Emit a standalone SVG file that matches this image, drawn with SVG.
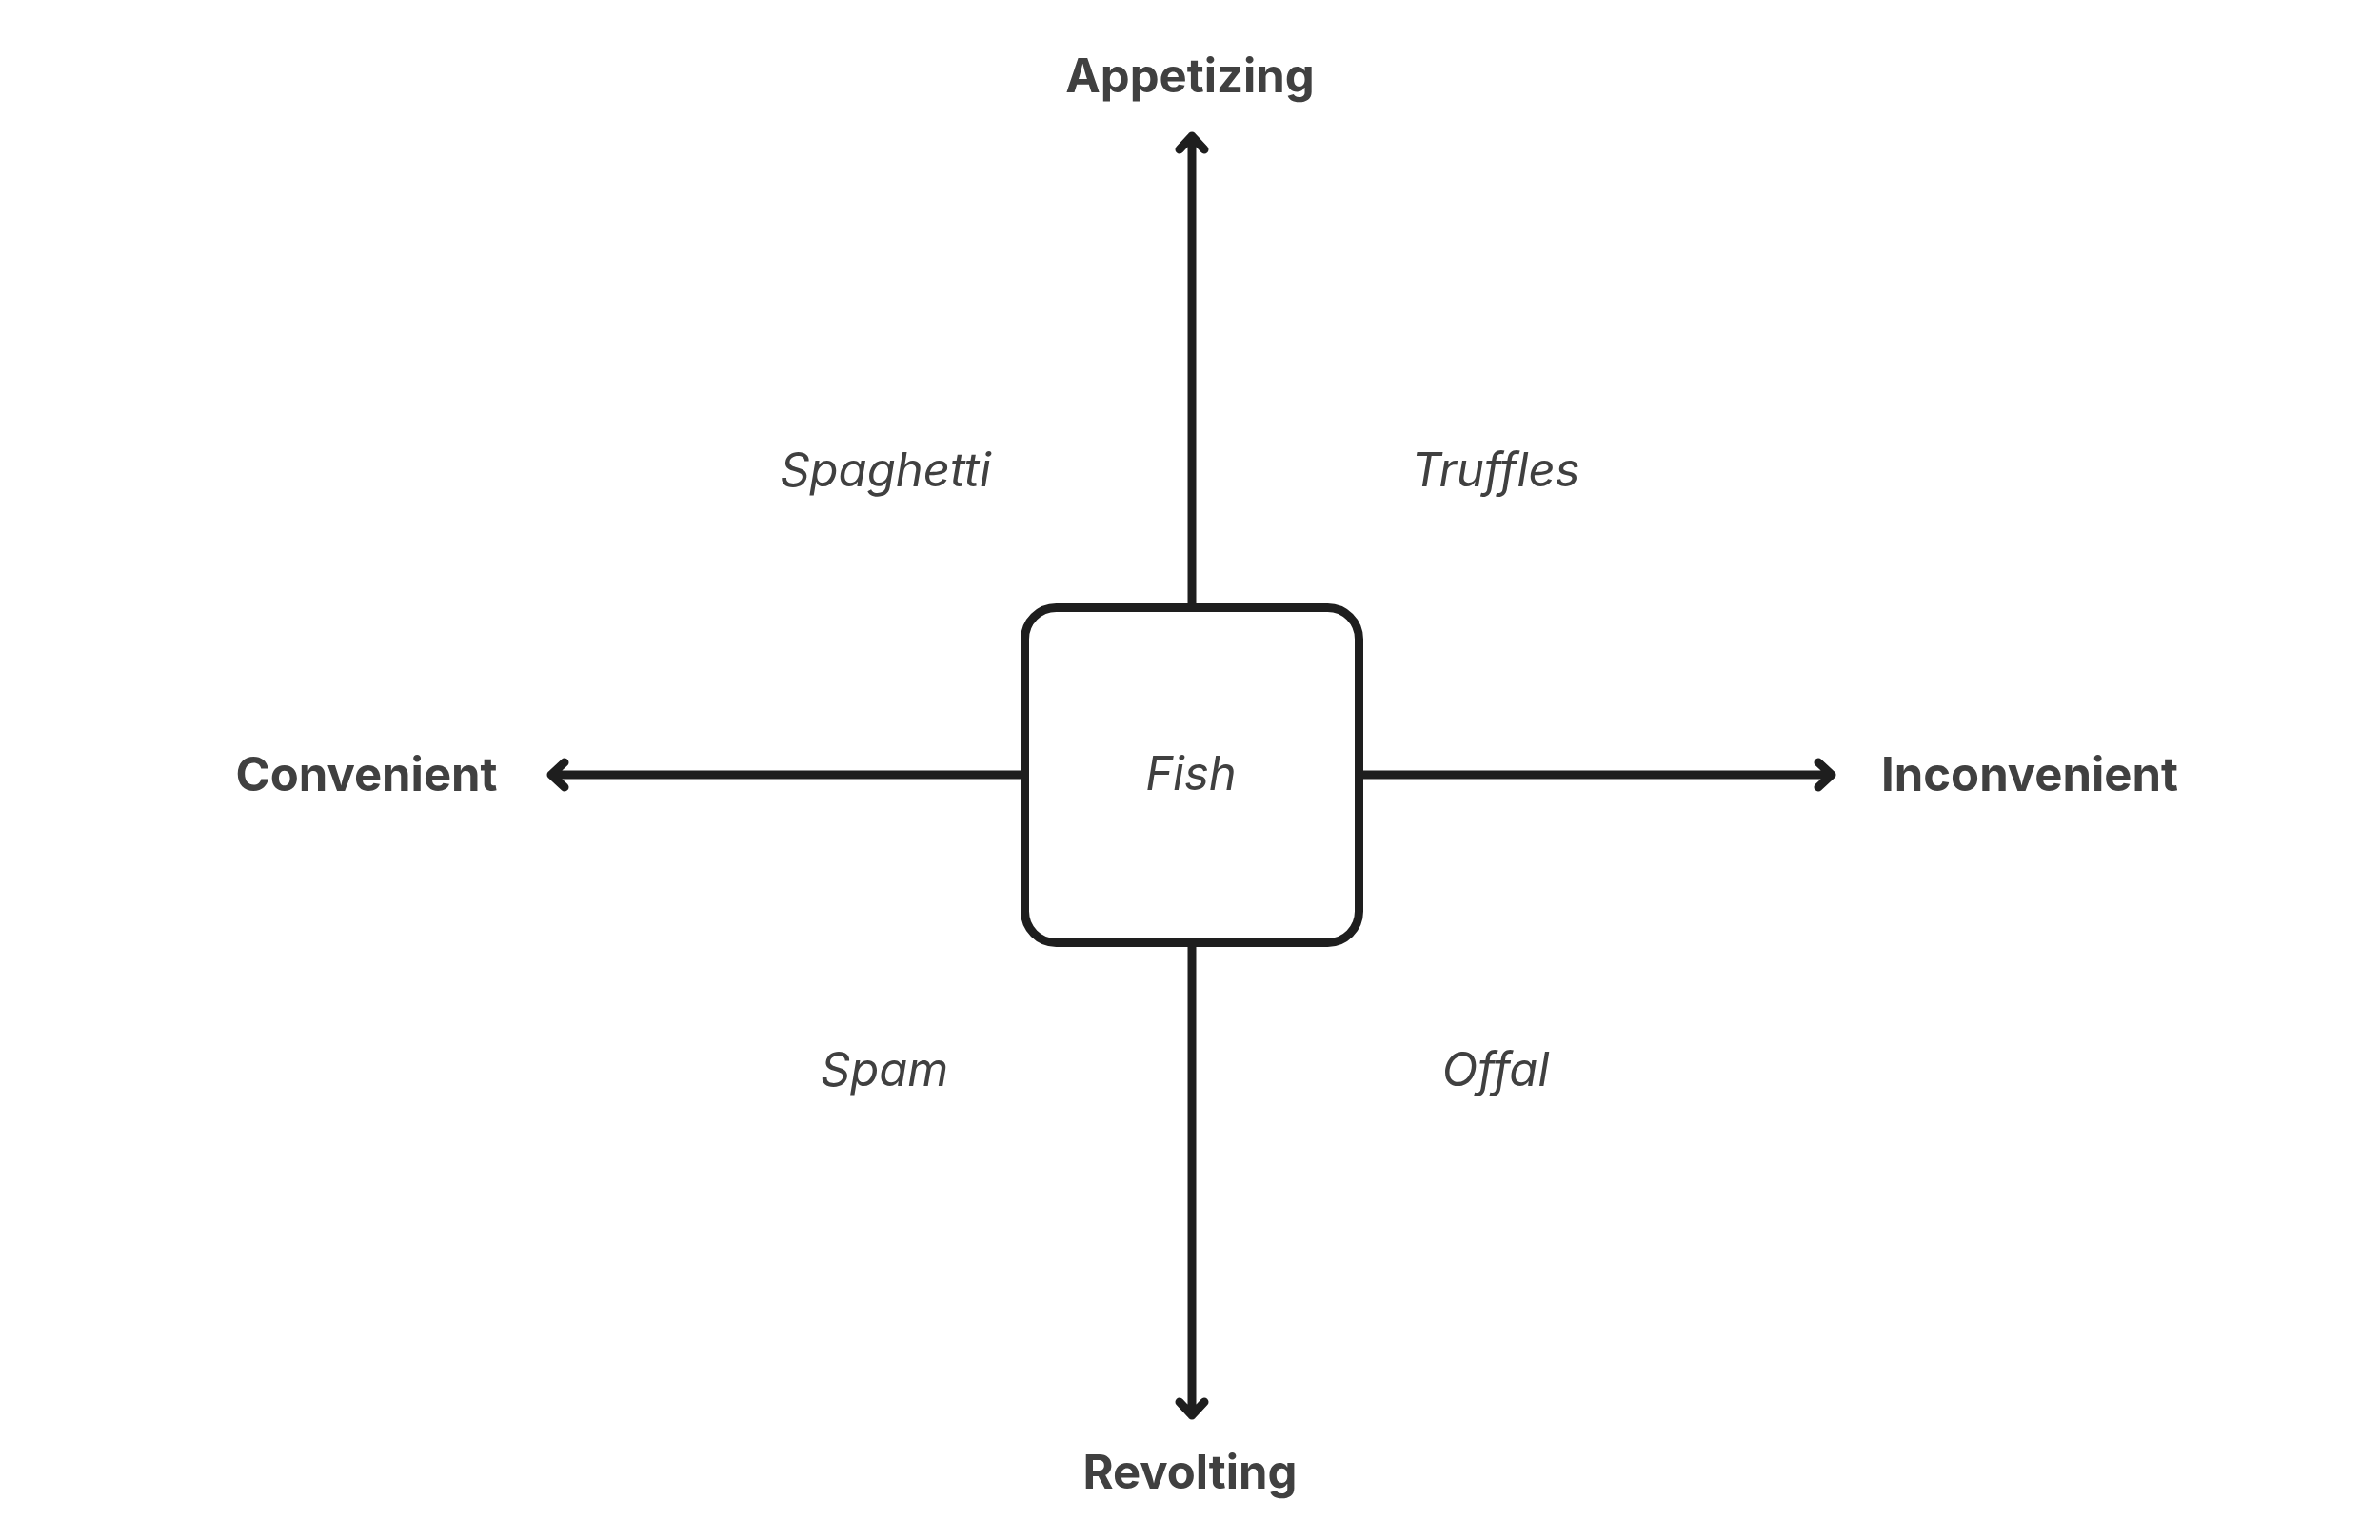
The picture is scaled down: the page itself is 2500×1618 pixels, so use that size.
<svg xmlns="http://www.w3.org/2000/svg" width="2500" height="1618" viewBox="0 0 2500 1618">
<style>
.axis{font-family:Inter,"Liberation Sans",sans-serif;font-weight:700;font-size:49px;fill:#404040;text-anchor:middle}
.item{font-family:Inter,"Liberation Sans",sans-serif;font-style:italic;font-size:49px;fill:#404040;text-anchor:middle}
.ln{stroke:#1e1e1e;stroke-width:9;fill:none;stroke-linecap:round;stroke-linejoin:round}
</style>
<rect width="2500" height="1618" fill="#ffffff"/>
<g id="connectors">
<path class="ln" d="M1252 634 V143 M1239 157 L1252 143 L1265 157"/>
<path class="ln" d="M1252 995 V1487 M1239 1473 L1252 1487 L1265 1473"/>
<path class="ln" d="M1072 814 H579 M593 801 L579 814 L593 827"/>
<path class="ln" d="M1432 814 H1924 M1910 801 L1924 814 L1910 827"/>
</g>
<g id="node-fish">
<rect x="1076.5" y="638.5" width="351" height="352" rx="33" fill="#ffffff" stroke="#1e1e1e" stroke-width="9"/>
<text class="item" x="1251" y="830">Fish</text>
</g>
<g id="label-appetizing"><text class="axis" x="1250" y="97">Appetizing</text></g>
<g id="label-revolting"><text class="axis" x="1250" y="1564">Revolting</text></g>
<g id="label-convenient"><text class="axis" x="385" y="831">Convenient</text></g>
<g id="label-inconvenient"><text class="axis" x="2132" y="831">Inconvenient</text></g>
<g id="label-spaghetti"><text class="item" x="930" y="511">Spaghetti</text></g>
<g id="label-truffles"><text class="item" x="1571" y="511">Truffles</text></g>
<g id="label-spam"><text class="item" x="929" y="1141">Spam</text></g>
<g id="label-offal"><text class="item" x="1571" y="1141">Offal</text></g>
</svg>
